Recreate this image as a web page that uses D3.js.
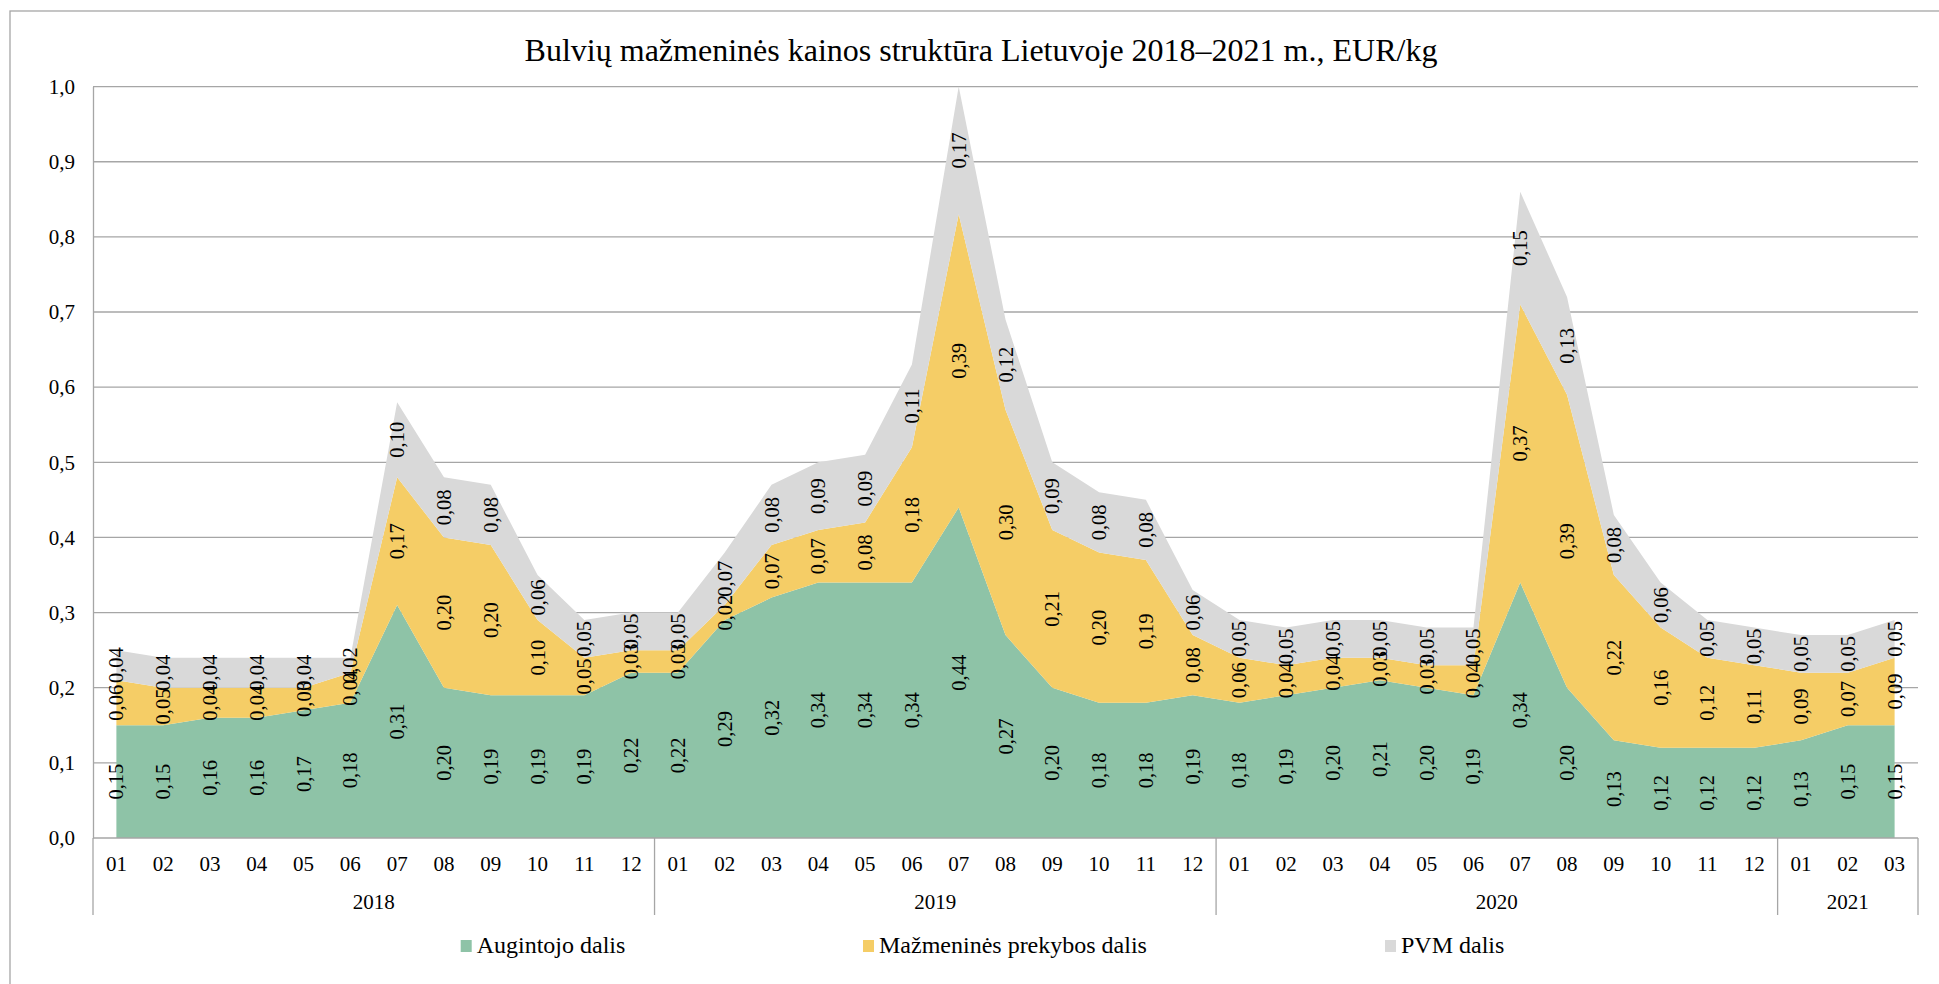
<!DOCTYPE html>
<html>
<head>
<meta charset="utf-8">
<script src="https://cdn.jsdelivr.net/npm/d3@7"></script>
<style>
  html, body { margin: 0; padding: 0; background: #fff; }
  svg { display: block; }
  svg text { font-family: "Liberation Serif", "Times New Roman", serif !important; fill: #000; }
</style>
</head>
<body>
<svg id="chart" width="1939" height="984"></svg>
<script>
// ---- DATA ----
const title = "Bulvių mažmeninės kainos struktūra Lietuvoje 2018–2021 m., EUR/kg";
const months = ["01","02","03","04","05","06","07","08","09","10","11","12",
                "01","02","03","04","05","06","07","08","09","10","11","12",
                "01","02","03","04","05","06","07","08","09","10","11","12",
                "01","02","03"];
const years = ["2018","2019","2020","2021"];
const yearCounts = [12, 12, 12, 3];
const seriesNames = ["Augintojo dalis", "Mažmeninės prekybos dalis", "PVM dalis"];
const grower = [0.15,0.15,0.16,0.16,0.17,0.18,0.31,0.20,0.19,0.19,0.19,0.22,
                0.22,0.29,0.32,0.34,0.34,0.34,0.44,0.27,0.20,0.18,0.18,0.19,
                0.18,0.19,0.20,0.21,0.20,0.19,0.34,0.20,0.13,0.12,0.12,0.12,
                0.13,0.15,0.15];
const retail = [0.06,0.05,0.04,0.04,0.03,0.04,0.17,0.20,0.20,0.10,0.05,0.03,
                0.03,0.02,0.07,0.07,0.08,0.18,0.39,0.30,0.21,0.20,0.19,0.08,
                0.06,0.04,0.04,0.03,0.03,0.04,0.37,0.39,0.22,0.16,0.12,0.11,
                0.09,0.07,0.09];
const vat = [0.04,0.04,0.04,0.04,0.04,0.02,0.10,0.08,0.08,0.06,0.05,0.05,
             0.05,0.07,0.08,0.09,0.09,0.11,0.17,0.12,0.09,0.08,0.08,0.06,
             0.05,0.05,0.05,0.05,0.05,0.05,0.15,0.13,0.08,0.06,0.05,0.05,
             0.05,0.05,0.05];
const yTicks = [0,0.1,0.2,0.3,0.4,0.5,0.6,0.7,0.8,0.9,1.0];
const colors = ["#8EC3A7", "#F5CD66", "#D9D9D9"];

// ---- LAYOUT ----
const svg = d3.select("#chart");
const L = 93, R = 1918, T = 86.6, B = 838;
const gridColor = "#A6A6A6";

svg.append("rect").attr("x", 10).attr("y", 11).attr("width", 1960).attr("height", 1000)
  .attr("fill", "#fff").attr("stroke", "#A6A6A6").attr("stroke-width", 1.3);

const idx = d3.range(months.length);
const x = d3.scaleBand().domain(idx).range([L, R]).paddingInner(0).paddingOuter(0);
const cx = i => x(i) + x.bandwidth() / 2;
const y = d3.scaleLinear().domain([0, 1]).range([B, T]);

// gridlines
svg.append("g").selectAll("line").data(yTicks.filter(d => d > 0)).join("line")
  .attr("x1", L).attr("x2", R).attr("y1", d => y(d)).attr("y2", d => y(d))
  .attr("stroke", gridColor).attr("stroke-width", 1.3);

// stacked data
const rows = idx.map(i => ({ i, a: grower[i], b: retail[i], c: vat[i] }));
const stack = d3.stack().keys(["a", "b", "c"]);
const layers = stack(rows);

const area = d3.area().x(d => cx(d.data.i)).y0(d => y(d[0])).y1(d => y(d[1])).curve(d3.curveLinear);
svg.append("g").selectAll("path").data(layers).join("path")
  .attr("d", area).attr("fill", (d, k) => colors[k]);

// y axis
const yAxis = d3.axisLeft(y).tickValues(yTicks).tickSize(0).tickPadding(18)
  .tickFormat(d => d3.format(".1f")(d).replace(".", ","));
const ya = svg.append("g").attr("transform", `translate(${L},0)`).call(yAxis)
  .attr("font-family", null);
ya.select(".domain").attr("stroke", gridColor).attr("stroke-width", 1.3);
ya.selectAll("text").style("font-size", "21px");

// x axis baseline
svg.append("line").attr("x1", L).attr("x2", R).attr("y1", B).attr("y2", B)
  .attr("stroke", gridColor).attr("stroke-width", 1.3);

// month labels
svg.append("g").selectAll("text").data(idx).join("text")
  .attr("x", i => cx(i)).attr("y", 871).attr("text-anchor", "middle")
  .style("font-size", "21px").text(i => months[i]);

// year groups
let start = 0;
const bounds = [0];
years.forEach((yr, k) => {
  const end = start + yearCounts[k];
  const x0 = x(start), x1 = x(end - 1) + x.bandwidth();
  svg.append("text").attr("x", (x0 + x1) / 2).attr("y", 909).attr("text-anchor", "middle")
    .style("font-size", "21px").text(yr);
  bounds.push(end);
  start = end;
});
svg.append("g").selectAll("line").data(bounds).join("line")
  .attr("x1", b => b < months.length ? x(b) : R).attr("x2", b => b < months.length ? x(b) : R)
  .attr("y1", B).attr("y2", 915)
  .attr("stroke", gridColor).attr("stroke-width", 1.3);

// data labels
const fmt = v => d3.format(".2f")(v).replace(".", ",");
layers.forEach((layer, k) => {
  svg.append("g").selectAll("text").data(layer).join("text")
    .attr("transform", d => `translate(${cx(d.data.i)},${y((d[0] + d[1]) / 2)}) rotate(-90)`)
    .attr("text-anchor", "middle").attr("dominant-baseline", "central")
    .style("font-size", "20.5px")
    .text(d => fmt(d[1] - d[0]));
});

// title
svg.append("text").attr("x", 981).attr("y", 61).attr("text-anchor", "middle")
  .style("font-size", "32px").text(title);

// legend
const legendX = [460.7, 863, 1385];
const lg = svg.append("g");
seriesNames.forEach((name, k) => {
  lg.append("rect").attr("x", legendX[k]).attr("y", 940).attr("width", 11).attr("height", 12)
    .attr("fill", colors[k]);
  lg.append("text").attr("x", legendX[k] + 16).attr("y", 953)
    .style("font-size", "24px").text(name);
});
</script>
</body>
</html>
